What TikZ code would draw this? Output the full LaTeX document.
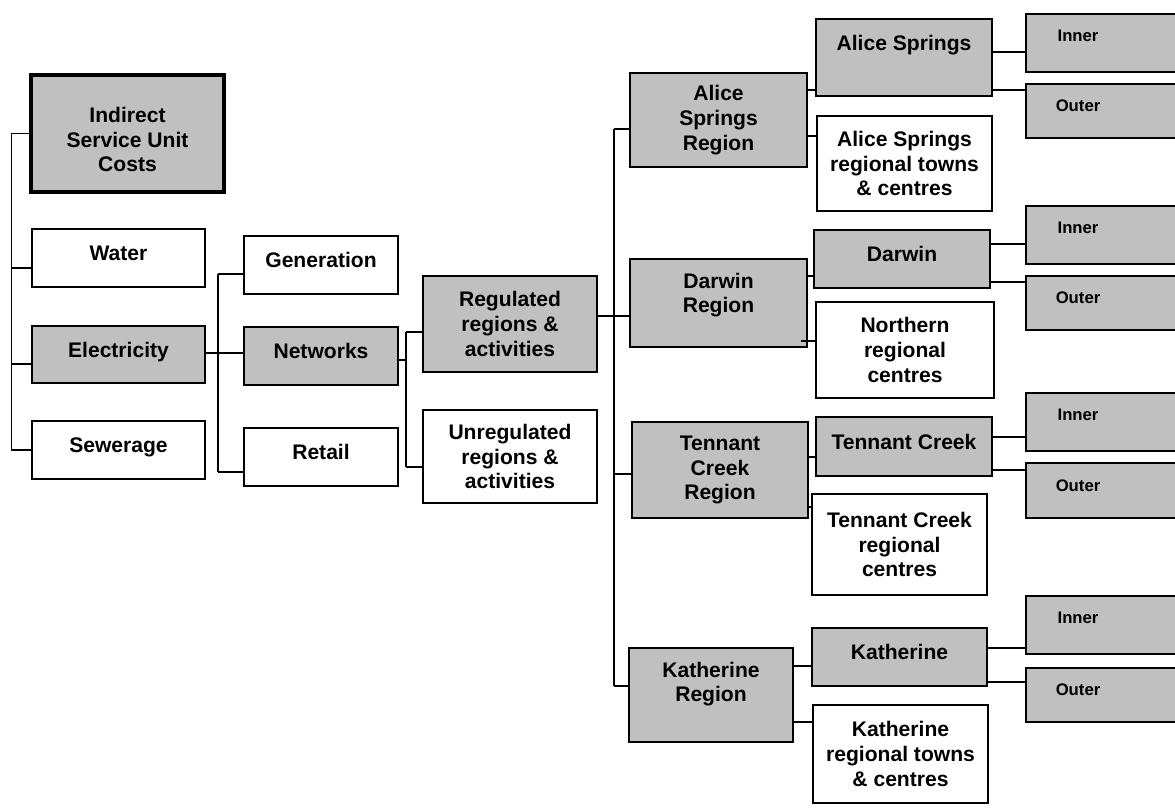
\documentclass[tikz,border=0pt]{standalone}
\usepackage{fontspec}
\setmainfont{Liberation Sans}
\definecolor{boxgrey}{RGB}{192,192,192}
\newdimen\pxl \pxl=0.02cm
\tikzset{
        wbox/.style={draw, line width=1.1pt, rectangle, inner sep=0pt, align=center, font=\bfseries\fontsize{12}{14}\selectfont},
        gbox/.style={wbox, fill=boxgrey},
        oneline/.style={text height=9pt, text depth=6pt},
        sz/.style 2 args={minimum width=#1\pxl, minimum height=#2\pxl},
        small/.style={font=\bfseries\fontsize{9.5}{11}\selectfont},
        link/.style={line width=0.8pt}}
\begin{document}
\begin{tikzpicture}[x=0.02cm, y=-0.02cm]
        \useasboundingbox (0,0) rectangle (1175,808);
        % services
        \node[gbox, line width=1.8pt, sz={193}{117}, text height=43.6pt] (isuc) at (127.5,133.5) {Indirect\\Service Unit\\Costs};
        \node[wbox, oneline, sz={173}{58}] (water) at (118.5,258) {Water};
        \node[gbox, oneline, sz={173}{57}] (elec) at (118.5,354.5) {Electricity};
        \node[wbox, oneline, sz={173}{58}] (sew) at (118.5,450) {Sewerage};
        % electricity
        \node[wbox, oneline, sz={154}{58}] (gen) at (321,265) {Generation};
        \node[gbox, oneline, sz={154}{58}] (net) at (321,356) {Networks};
        \node[wbox, oneline, sz={154}{58}] (ret) at (321,457) {Retail};
        % networks
        \node[gbox, sz={174}{96}] (reg) at (510,324) {Regulated\\regions \&\\activities};
        \node[wbox, sz={174}{93}] (unreg) at (510,456.5) {Unregulated\\regions \&\\activities};
        % regions
        \node[gbox, sz={177}{94}] (asr) at (718.5,120) {Alice\\Springs\\Region};
        \node[gbox, sz={177}{88}, text depth=11.5pt] (dwr) at (718.5,303) {Darwin\\Region};
        \node[gbox, sz={176}{96}] (tcr) at (720,470) {Tennant\\Creek\\Region};
        \node[gbox, sz={164}{94}, text depth=15pt] (kr) at (711,695) {Katherine\\Region};
        % towns
        \node[gbox, sz={176}{77}, text height=9pt, text depth=17pt] (as) at (904,57.5) {Alice Springs};
        \node[wbox, sz={175}{95}] (asrt) at (904.5,163.5) {Alice Springs\\regional towns\\\& centres};
        \node[gbox, oneline, sz={176}{58}] (dw) at (902,259) {Darwin};
        \node[wbox, sz={178}{96}] (north) at (905,350) {Northern\\regional\\centres};
        \node[gbox, oneline, sz={176}{59}] (tc) at (904,446.5) {Tennant Creek};
        \node[wbox, sz={175}{101}] (tcrc) at (899.5,544.5) {Tennant Creek\\regional\\centres};
        \node[gbox, oneline, sz={175}{58}] (kt) at (899.5,657) {Katherine};
        \node[wbox, sz={175}{98}] (ktrt) at (900.5,754) {Katherine\\regional towns\\\& centres};
        % inner and outer
        \node[gbox, sz={164}{58}, label={[small, xshift=-30\pxl, yshift=7\pxl]center:Inner}] (in1) at (1108,43) {};
        \node[gbox, sz={164}{54}, label={[small, xshift=-30\pxl, yshift=5\pxl]center:Outer}] (out1) at (1108,111) {};
        \node[gbox, sz={164}{58}, label={[small, xshift=-30\pxl, yshift=7\pxl]center:Inner}] (in2) at (1108,235) {};
        \node[gbox, sz={164}{54}, label={[small, xshift=-30\pxl, yshift=5\pxl]center:Outer}] (out2) at (1108,303) {};
        \node[gbox, sz={164}{58}, label={[small, xshift=-30\pxl, yshift=7\pxl]center:Inner}] (in3) at (1108,422) {};
        \node[gbox, sz={164}{55}, label={[small, xshift=-30\pxl, yshift=5\pxl]center:Outer}] (out3) at (1108,490.5) {};
        \node[gbox, sz={164}{58}, label={[small, xshift=-30\pxl, yshift=7\pxl]center:Inner}] (in4) at (1108,625) {};
        \node[gbox, sz={164}{54}, label={[small, xshift=-30\pxl, yshift=5\pxl]center:Outer}] (out4) at (1108,695) {};

        % lines services
        \draw[link] (isuc.west) -- ++(-18,0) coordinate (b1) |- (sew.west);
        \draw[link] (water.west) ++(0,10) coordinate (t) -- (t -| b1);\draw[link] (elec.west) ++(0,9.5) coordinate (t) -- (t -| b1);
        % lines electricity
        \draw[link] (gen.west) ++(0,9) -- ++(-25,0) coordinate (b2);\draw[link] (ret.west) ++(0,15) -- ++(-25,0) coordinate (b2r);
        \draw[link] (b2) -- (b2r);
        \draw[link] (elec.east) ++(0,-1.5) coordinate (t) -- (t -| net.west);
        % lines networks
        \draw[link] (reg.west) ++(0,8) -- ++(-16,0) coordinate (b3);\draw[link] (unreg.west) ++(0,10.5) -- ++(-16,0) coordinate (b3u);
        \draw[link] (b3) -- (b3u);
        \draw[link] (net.east) ++(0,4) coordinate (t) -- (t -| b3);
        % lines regions
        \draw[link] (asr.west) ++(0,9) -- ++(-15,0) coordinate (b4);\draw[link] (kr.west) ++(0,-9) -- ++(-14,0) coordinate (b4k);
        \draw[link] (b4) -- (b4k);
        \draw[link] (reg.east) ++(0,-8) coordinate (t) -- (t -| dwr.west);
        \draw[link] (tcr.west) ++(0,4) coordinate (t) -- (t -| b4);
        % lines towns
        \draw[link] (asr.east) ++(0,-30) coordinate (t) -- (t -| as.west);\draw[link] (asr.east) ++(0,16) coordinate (t) -- (t -| asrt.west);
        \draw[link] (dwr.east) ++(0,-27) coordinate (t) -- (t -| dw.west);\draw[link] (dwr.east) ++(-7,38) coordinate (t) -- (t -| north.west);
        \draw[link] (tcr.east) ++(0,-13) coordinate (t) -- (t -| tc.west);\draw[link] (tcr.east) ++(0,37) coordinate (t) -- (t -| tcrc.west);
        \draw[link] (kr.east) ++(0,-29) coordinate (t) -- (t -| kt.west);\draw[link] (kr.east) ++(0,27) coordinate (t) -- (t -| ktrt.west);
        % lines inner and outer
        \draw[link] (as.east) ++(0,-5.5) coordinate (t) -- (t -| in1.west);\draw[link] (as.east) ++(0,32.5) coordinate (t) -- (t -| out1.west);
        \draw[link] (dw.east) ++(0,-15) coordinate (t) -- (t -| in2.west);\draw[link] (dw.east) ++(0,23) coordinate (t) -- (t -| out2.west);
        \draw[link] (tc.east) ++(0,-9.5) coordinate (t) -- (t -| in3.west);\draw[link] (tc.east) ++(0,23.5) coordinate (t) -- (t -| out3.west);
        \draw[link] (kt.east) ++(0,-9) coordinate (t) -- (t -| in4.west);\draw[link] (kt.east) ++(0,25) coordinate (t) -- (t -| out4.west);
\end{tikzpicture}
\end{document}
